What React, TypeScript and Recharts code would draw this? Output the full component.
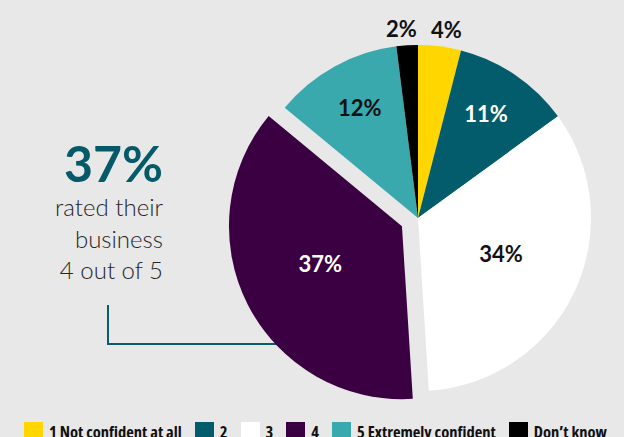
import { PieChart, Pie, Cell, Legend } from 'recharts';

const categories = ['1 Not confident at all', '2', '3', '4', '5 Extremely confident', "Don\u2019t know"];
const shares = [4, 11, 34, 37, 12, 2];
const colors = ['#ffd600', '#035c6c', '#ffffff', '#3a0041', '#3aa9ae', '#000000'];
const labelColors = ['#111', '#fff', '#111', '#fff', '#111', '#111'];
const explodedIndex = 3;

const data = categories.map((name, i) => ({ name, value: shares[i] }));

const W = 624;
const H = 437;
const CX = 413;
const CY = 213;
const R = 173;
const EXPLODE = 18;
const RAD = Math.PI / 180;
const FONT = 'Lato, "Noto Sans", sans-serif';

// offset of the pulled-out slice, along its mid angle
const total = shares.reduce((a, b) => a + b, 0);
const before = shares.slice(0, explodedIndex).reduce((a, b) => a + b, 0);
const midAngle = 90 - ((before + shares[explodedIndex] / 2) / total) * 360;
const offX = Math.cos(midAngle * RAD) * EXPLODE;
const offY = -Math.sin(midAngle * RAD) * EXPLODE;

const renderLabel = (props: any) => {
  const { cx, cy, midAngle: ma, outerRadius, index, value } = props;
  const small = value < 5;
  let r: number;
  if (small) r = outerRadius + 13;
  else if (value >= 30) r = outerRadius * 0.53;
  else r = outerRadius * 0.7;
  const cos = Math.cos(-ma * RAD);
  const x = cx + r * cos + (small ? Math.sign(cos) * 5 : 0);
  const y = cy + r * Math.sin(-ma * RAD) - 4;
  return (
    <text
      x={x}
      y={y}
      textAnchor="middle"
      dominantBaseline="central"
      fill={labelColors[index]}
      style={{ fontFamily: FONT, fontWeight: 700, fontSize: 22 }}
    >
      {`${value}%`}
    </text>
  );
};

const renderExplodedLabel = (props: any) =>
  props.index === explodedIndex ? renderLabel(props) : null;

const renderLegend = () => (
  <div style={{ display: 'flex', alignItems: 'flex-start', paddingLeft: 24, whiteSpace: 'nowrap', fontFamily: '"Open Sans", sans-serif', fontStretch: '75%', fontWeight: 700, fontSize: 16.5, color: '#111' }}>
    {categories.map((c, i) => (
      <div key={c} style={{ display: 'flex', alignItems: 'flex-start', marginRight: 13 }}>
        <span style={{ width: 19, height: 19, background: colors[i], display: 'inline-block', marginRight: 6, flex: 'none' }} />
        <span style={{ lineHeight: '19px', marginTop: 0 }}>{c}</span>
      </div>
    ))}
  </div>
);

export default function App() {
  return (
    <div style={{ position: 'fixed', left: 0, top: 0, width: W, height: H, background: '#e8e8e8', overflow: 'hidden' }}>
      <svg width={W} height={H} style={{ position: 'absolute', left: 0, top: 0 }}>
        <polyline points="108,305 108,344 300,344" fill="none" stroke="#0b5c6b" strokeWidth={2} />
        <text x={163} y={182} textAnchor="end" fill="#045a69" style={{ fontFamily: FONT, fontWeight: 700, fontSize: 50 }}>37%</text>
        <g fill="#262626" style={{ fontFamily: FONT, fontWeight: 300, fontSize: 24 }}>
          <text x={163} y={216} textAnchor="end">rated their</text>
          <text x={163} y={248} textAnchor="end">business</text>
          <text x={163} y={279} textAnchor="end">4 out of 5</text>
        </g>
      </svg>
      <div style={{ position: 'absolute', left: 0, top: 0 }}>
        <PieChart width={W} height={H}>
          <Pie
            data={data}
            dataKey="value"
            nameKey="name"
            cx={CX}
            cy={CY}
            outerRadius={R}
            startAngle={90}
            endAngle={-270}
            stroke="none"
            label={(p: any) => (p.index === explodedIndex ? null : renderLabel(p))}
            labelLine={false}
            isAnimationActive={false}
          >
            {data.map((d, i) => (
              <Cell key={d.name} fill={i === explodedIndex ? 'transparent' : colors[i]} />
            ))}
          </Pie>
          <Pie
            data={data}
            dataKey="value"
            nameKey="name"
            cx={CX + offX}
            cy={CY + offY}
            outerRadius={R}
            startAngle={90}
            endAngle={-270}
            stroke="none"
            label={renderExplodedLabel}
            labelLine={false}
            isAnimationActive={false}
          >
            {data.map((d, i) => (
              <Cell key={d.name} fill={i === explodedIndex ? colors[i] : 'transparent'} />
            ))}
          </Pie>
          <Legend content={renderLegend} wrapperStyle={{ left: 0, top: 422, width: W }} />
        </PieChart>
      </div>
    </div>
  );
}
